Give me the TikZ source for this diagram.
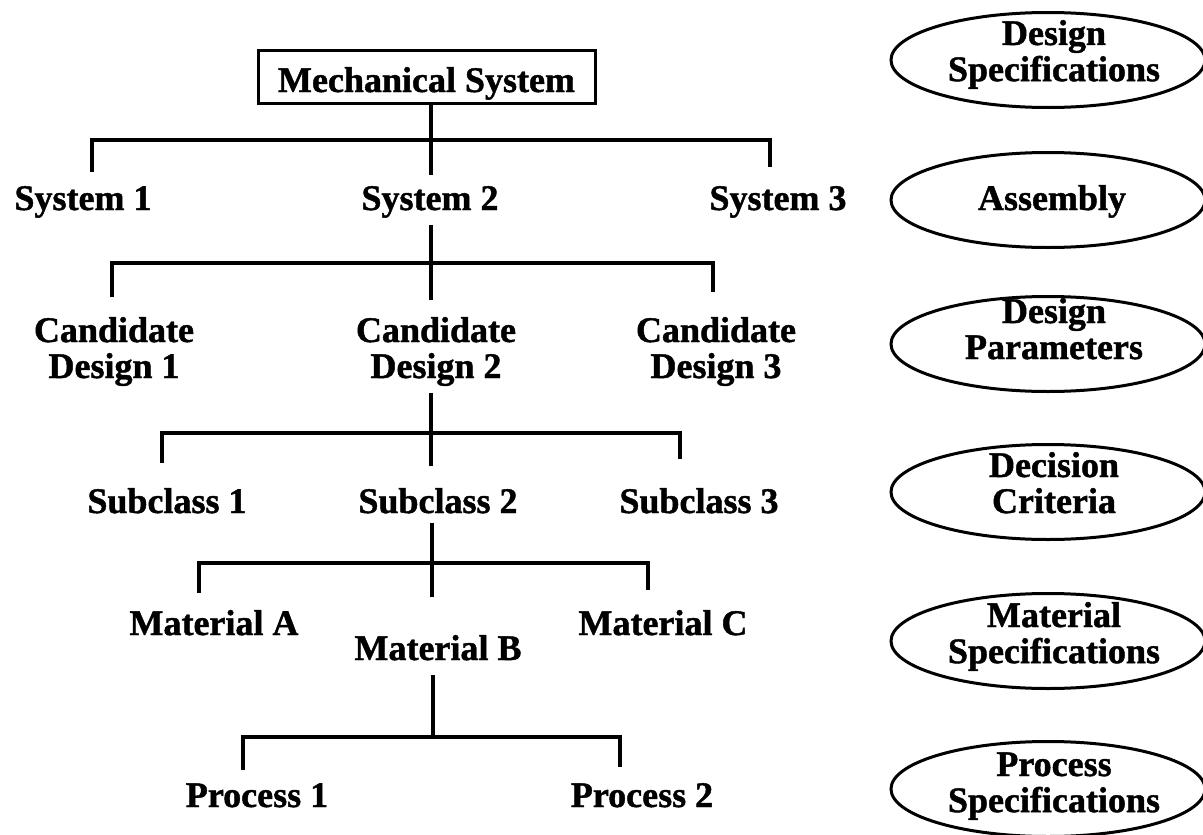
\documentclass[tikz,border=0pt]{standalone}
\usepackage{fontspec}
\setmainfont{Liberation Serif}[BoldFeatures={FakeBold=1.2}]
\usetikzlibrary{shapes.geometric}
\tikzset{
  lbl/.style={anchor=base, inner sep=0pt, font=\fontsize{36}{36}\selectfont\bfseries},
  conn/.style={line width=3.3pt, line cap=butt, line join=miter},
  ell/.style={draw, ellipse, line width=3pt, minimum width=314pt, minimum height=95pt, inner sep=0pt},
  msbox/.style={draw, line width=3pt, anchor=base, inner sep=0pt, text height=42pt, text depth=11pt,
    minimum width=337pt, font=\fontsize{36}{36}\selectfont\bfseries},
}
\newcommand{\twoline}[2]{\begin{tabular}[t]{@{}c@{}}#1\\#2\end{tabular}}
\begin{document}
\begin{tikzpicture}[x=1pt,y=-1pt]
\useasboundingbox (0,0) rectangle (1203,835);

% tree nodes
\node[msbox] (ms) at (426.5,92) {Mechanical System};
\node[lbl] (s1) at (83,210) {System 1};
\node[lbl] (s2) at (430,210) {System 2};
\node[lbl] (s3) at (778,210) {System 3};
\node[lbl] (c1) at (114,342) {\twoline{Candidate}{Design 1}};
\node[lbl] (c2) at (436,342) {\twoline{Candidate}{Design 2}};
\node[lbl] (c3) at (716,342) {\twoline{Candidate}{Design 3}};
\node[lbl] (sc1) at (167,513) {Subclass 1};
\node[lbl] (sc2) at (438,513) {Subclass 2};
\node[lbl] (sc3) at (699,513) {Subclass 3};
\node[lbl] (ma) at (214,635) {Material A};
\node[lbl] (mb) at (438,660) {Material B};
\node[lbl] (mc) at (663,635) {Material C};
\node[lbl] (p1) at (257,807) {Process 1};
\node[lbl] (p2) at (642,807) {Process 2};

% right-hand ellipses
\node[ell] (e1) at (1048,60) {};
\node[ell] (e2) at (1048,200) {};
\node[ell] (e3) at (1048,344) {};
\node[ell] (e4) at (1048,492) {};
\node[ell] (e5) at (1048,641) {};
\node[ell] (e6) at (1048,789) {};
\node[lbl] (e1t) at (1054,45) {\twoline{Design}{Specifications}};
\node[lbl] (e2t) at (1052,210) {Assembly};
\node[lbl] (e3t) at (1054,323) {\twoline{Design}{Parameters}};
\node[lbl] (e4t) at (1054,477) {\twoline{Decision}{Criteria}};
\node[lbl] (e5t) at (1054,627) {\twoline{Material}{Specifications}};
\node[lbl] (e6t) at (1054,776) {\twoline{Process}{Specifications}};

% connector end points
\coordinate (b1) at (431,140);
\coordinate (t1a) at (92,172);
\coordinate (t1b) at (431,175);
\coordinate (t1c) at (770,167);

\coordinate (u2) at (431,225);
\coordinate (b2) at (431,263);
\coordinate (t2a) at (112,297);
\coordinate (t2b) at (431,300);
\coordinate (t2c) at (713,292);

\coordinate (u3) at (431,393);
\coordinate (b3) at (431,433);
\coordinate (t3a) at (162,463);
\coordinate (t3b) at (431,466);
\coordinate (t3c) at (680,459);

\coordinate (u4) at (432,523);
\coordinate (b4) at (432,563);
\coordinate (t4a) at (199,593);
\coordinate (t4b) at (432,597);
\coordinate (t4c) at (648,590);

\coordinate (u5) at (433,675);
\coordinate (b5) at (433,737);
\coordinate (t5a) at (243,770);
\coordinate (t5c) at (620,767);

% connectors
\draw[conn] (ms.south -| b1) -- (b1) -- (t1b);
\draw[conn] (t1a) |- (b1) -| (t1c);

\draw[conn] (u2) -- (b2) -- (t2b);
\draw[conn] (t2a) |- (b2) -| (t2c);

\draw[conn] (u3) -- (b3) -- (t3b);
\draw[conn] (t3a) |- (b3) -| (t3c);

\draw[conn] (u4) -- (b4) -- (t4b);
\draw[conn] (t4a) |- (b4) -| (t4c);

\draw[conn] (u5) -- (b5);
\draw[conn] (t5a) |- (b5) -| (t5c);
\end{tikzpicture}
\end{document}
